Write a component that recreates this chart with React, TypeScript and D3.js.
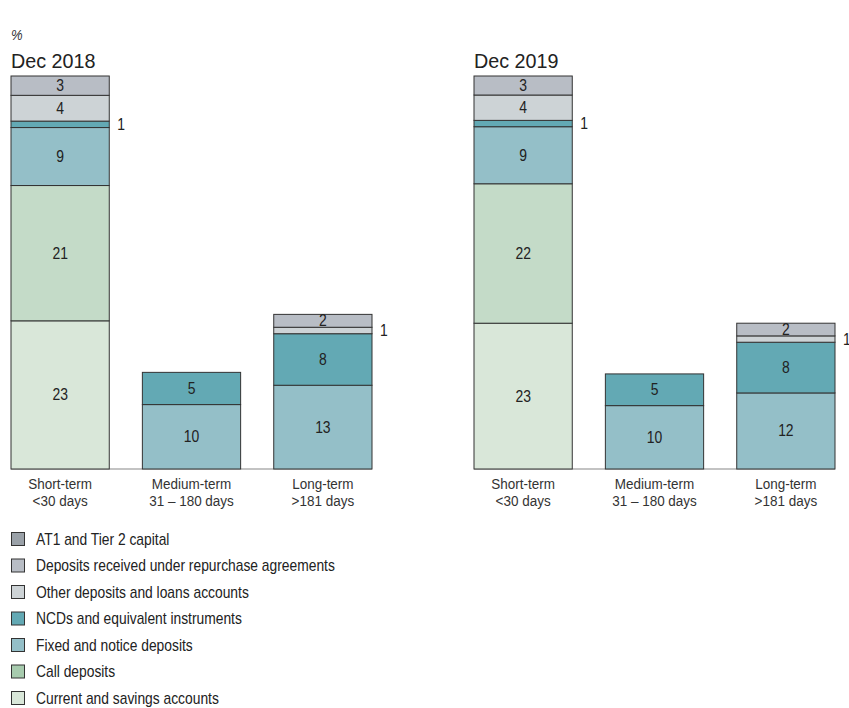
import React from "react";
import * as d3 from "d3";

const series = [
  "Current and savings accounts",
  "Call deposits",
  "Fixed and notice deposits",
  "NCDs and equivalent instruments",
  "Other deposits and loans accounts",
  "Deposits received under repurchase agreements",
  "AT1 and Tier 2 capital",
];
const barColors = ["#d9e7d9", "#c4dbc8", "#94bfc8", "#63a9b4", "#cdd3d6", "#b8bdc5", "#9aa1a8"];
const legendColors = ["#d9e7d9", "#a7cbae", "#94bfc8", "#63a9b4", "#cdd3d6", "#b8bdc5", "#9aa1a8"];

const categories = ["Short-term", "Medium-term", "Long-term"];
const categorySub = ["<30 days", "31 \u2013 180 days", ">181 days"];
const panels = ["Dec 2018", "Dec 2019"];

// values per panel, per category, per series (bottom to top)
const dec2018 = [
  [23, 21, 9, 1, 4, 3, 0],
  [0, 0, 10, 5, 0, 0, 0],
  [0, 0, 13, 8, 1, 2, 0],
];
const dec2019 = [
  [23, 22, 9, 1, 4, 3, 0],
  [0, 0, 10, 5, 0, 0, 0],
  [0, 0, 12, 8, 1, 2, 0],
];
const panelData = [dec2018, dec2019];

const FONT = "'Liberation Sans', Arial, sans-serif";

function T({ x, y, size = 15, sx = 0.87, anchor = "start", italic = false, fill = "#222", children }: any) {
  return (
    <text
      transform={`translate(${x},${y}) scale(${sx},1)`}
      fontSize={size}
      fontFamily={FONT}
      fontStyle={italic ? "italic" : "normal"}
      textAnchor={anchor}
      fill={fill}
    >
      {children}
    </text>
  );
}

function Panel({ x0, title, data }: { x0: number; title: string; data: number[][] }) {
  const top = 76;
  const base = 469;
  const totals = data.map((r) => d3.sum(r));
  const y = d3.scaleLinear().domain([0, d3.max(totals)!]).range([base, top]);
  const xb = d3.scaleBand().domain(categories).range([x0, x0 + 361]).paddingInner(0.252).paddingOuter(0);
  const bw = xb.bandwidth();
  return (
    <g>
      <T x={x0} y={68} size={21} sx={0.94}>{title}</T>
      <line x1={x0} x2={x0 + 361} y1={base} y2={base} stroke="#888" strokeWidth={1.2} />
      {categories.map((c, ci) => {
        const stack = d3.stack<number[]>().keys(series.map((_, i) => String(i))).value((d, k) => d[+k])([data[ci]]);
        const bx = xb(c)!;
        return (
          <g key={c}>
            {stack.map((s, si) => {
              const v = data[ci][si];
              if (!v) return null;
              const y0 = y(s[0][0]);
              const y1 = y(s[0][1]);
              const h = y0 - y1;
              return (
                <g key={si}>
                  <rect x={bx} y={y1} width={bw} height={h} fill={barColors[si]} stroke="#333" strokeWidth={1} />
                  {h > 12 ? (
                    <T x={bx + bw / 2} y={(y0 + y1) / 2 + 5.5} anchor="middle" size={16}>{v}</T>
                  ) : (
                    <T x={bx + bw + 8} y={(y0 + y1) / 2 + 5.5} size={16}>{v}</T>
                  )}
                </g>
              );
            })}
            <T x={bx + bw / 2} y={489} anchor="middle" size={15.5} fill="#333">{c}</T>
            <T x={bx + bw / 2} y={506} anchor="middle" size={15.5} fill="#333">{categorySub[ci]}</T>
          </g>
        );
      })}
    </g>
  );
}

export default function App() {
  const legendOrder = [6, 5, 4, 3, 2, 1, 0];
  return (
    <svg width={849} height={708} style={{ position: "absolute", left: 0, top: 0 }}>
      <rect width={849} height={708} fill="#fff" />
      <T x={11} y={40} size={15} italic fill="#333">%</T>
      {panels.map((p, i) => (
        <Panel key={p} x0={i === 0 ? 11 : 474} title={p} data={panelData[i]} />
      ))}
      {legendOrder.map((si, i) => (
        <g key={si} transform={`translate(11, ${532 + i * 26.5})`}>
          <rect x={0.5} y={0.5} width={13} height={13} fill={legendColors[si]} stroke="#333" strokeWidth={1} />
          <T x={25} y={12.5} size={16} sx={0.865}>{series[si]}</T>
        </g>
      ))}
    </svg>
  );
}
